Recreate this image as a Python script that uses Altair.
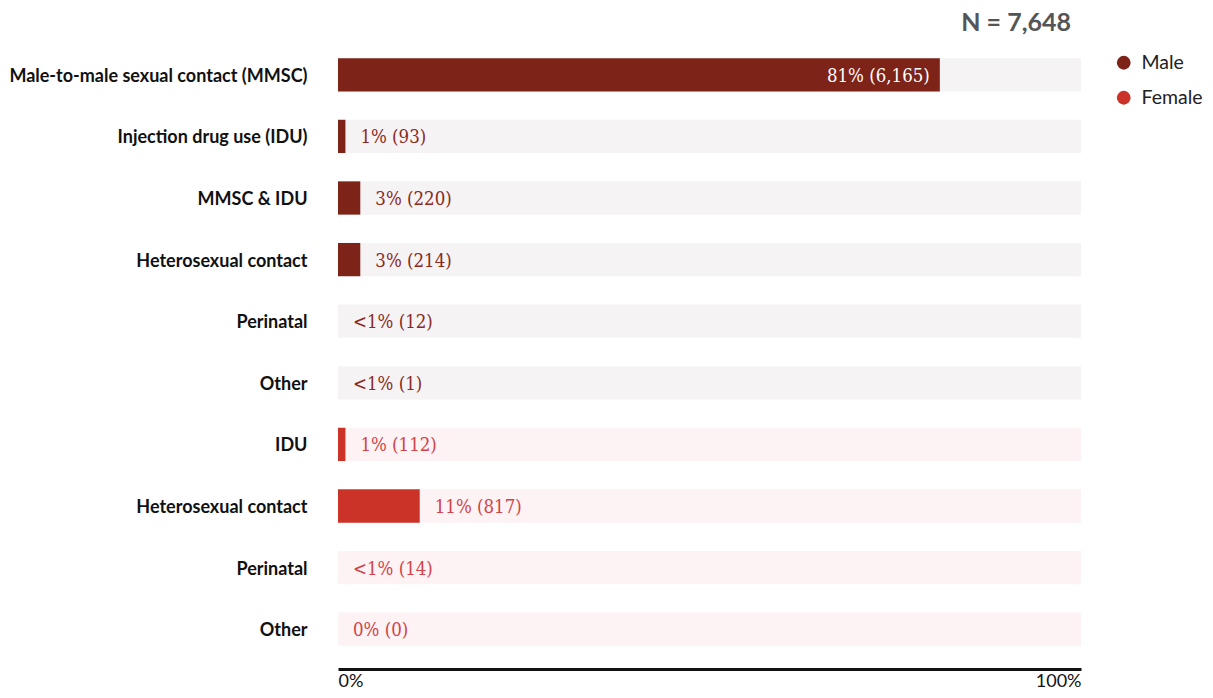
import json
import altair as alt
import pandas as pd

categories = [
    "Male-to-male sexual contact (MMSC)",
    "Injection drug use (IDU)",
    "MMSC & IDU",
    "Heterosexual contact",
    "Perinatal",
    "Other",
    "IDU",
    "Heterosexual contact",
    "Perinatal",
    "Other",
]
sexes = ["Male"] * 6 + ["Female"] * 4
counts = [6165, 93, 220, 214, 12, 1, 112, 817, 14, 0]
# bar lengths as shown (rounded percentages; "<1%" drawn as no visible bar)
percents = [81, 1, 3, 3, 0, 0, 1, 11, 0, 0]
pct_labels = ["81%", "1%", "3%", "3%", "<1%", "<1%", "1%", "11%", "<1%", "0%"]
total_label = "N = 7,648"

df = pd.DataFrame({
    "id": list(range(len(categories))),
    "category": categories,
    "sex": sexes,
    "count": counts,
    "pct": percents,
})
df["full"] = 100
df["label"] = [f"{p} ({c:,})" for p, c in zip(pct_labels, counts)]

MALE = "#7d2318"
FEMALE = "#cc3328"
MALE_BG = "#f5f3f4"
FEMALE_BG = "#fdf3f4"
MALE_TXT = "#8a2a1f"
FEMALE_TXT = "#d0434a"

label_expr = json.dumps(categories) + "[datum.value]"

y_enc = alt.Y(
    "id:O",
    scale=alt.Scale(paddingInner=0.46, paddingOuter=0.23),
    axis=alt.Axis(
        title=None, ticks=False, domain=False, labelExpr=label_expr,
        labelFont="Lato", labelFontWeight="bold", labelFontSize=18,
        labelColor="#111111", labelPadding=31, labelLimit=400, labelOffset=2,
    ),
)

x_scale = alt.Scale(domain=[0, 100], nice=False, zero=True)

base = alt.Chart(df)

bg = base.mark_bar().encode(
    y=y_enc,
    x=alt.X("full:Q", scale=x_scale,
            axis=alt.Axis(values=[0, 100], labelExpr="datum.value + '%'", title=None, grid=False,
                          ticks=False, domainColor="#111111", domainWidth=3,
                          offset=9, labelFlush=True, labelFont="Lato",
                          labelFontSize=18, labelColor="#111111", labelPadding=3)),
    color=alt.condition(alt.datum.sex == "Male", alt.value(MALE_BG), alt.value(FEMALE_BG)),
)

bars = base.mark_bar().encode(
    y=alt.Y("id:O"),
    x=alt.X("pct:Q", scale=x_scale),
    color=alt.Color(
        "sex:N",
        scale=alt.Scale(domain=["Male", "Female"], range=[MALE, FEMALE]),
        legend=alt.Legend(
            title=None, orient="none", legendX=776, legendY=9, padding=0,
            symbolType="circle", symbolSize=190, symbolStrokeWidth=0,
            labelFont="Lato", labelFontSize=19.5, labelColor="#222222",
            labelOffset=8, rowPadding=14,
        ),
    ),
)

outside = base.transform_filter(alt.datum.pct < 50).mark_text(
    align="left", baseline="middle", dx=15, dy=1, font="DejaVu Serif Condensed", fontSize=18.5,
).encode(
    y=alt.Y("id:O"),
    x=alt.X("pct:Q", scale=x_scale),
    text="label:N",
    color=alt.condition(alt.datum.sex == "Male", alt.value(MALE_TXT), alt.value(FEMALE_TXT)),
)

inside = base.transform_filter(alt.datum.pct >= 50).mark_text(
    align="right", baseline="middle", dx=-10, dy=1, font="DejaVu Serif Condensed", fontSize=18.5,
    color="white",
).encode(
    y=alt.Y("id:O"),
    x=alt.X("pct:Q", scale=x_scale),
    text="label:N",
)

title = alt.Chart(pd.DataFrame({"t": [total_label]})).mark_text(
    align="right", baseline="middle", font="Lato", fontWeight="bold",
    fontSize=25, color="#555555",
).encode(
    x=alt.value(733),
    y=alt.value(-21),
    text="t:N",
)

chart = alt.layer(bg, bars, outside, inside, title).properties(
    width=743,
    height=616,
    autosize=alt.AutoSizeParams(type="none"),
    padding={"left": 330, "top": 36, "right": 124, "bottom": 30},
).configure_view(stroke=None)

chart.save("out.html", embed_options={"renderer": "svg", "actions": False})
